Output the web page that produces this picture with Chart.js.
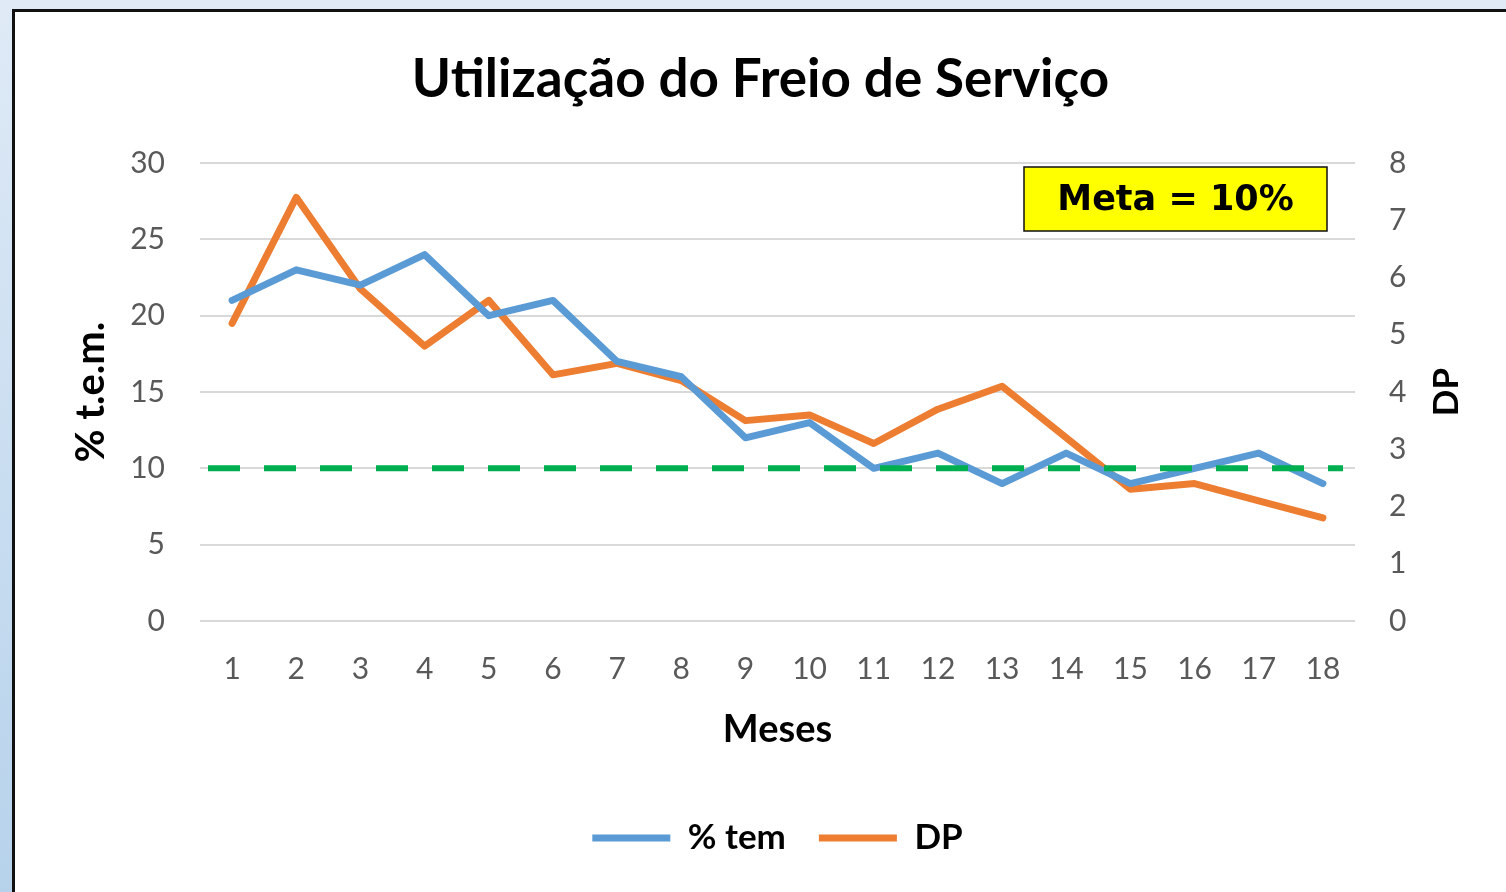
<!DOCTYPE html>
<html>
<head>
<meta charset="utf-8">
<script src="https://cdn.jsdelivr.net/npm/chart.js@4.4.1/dist/chart.umd.min.js"></script>
<style>
    html, body {
        margin: 0;
        padding: 0;
        width: 1506px;
        height: 892px;
        overflow: hidden;
        background: linear-gradient(to bottom, #dfeaf6, #b6d2eb);
    }
    .frame {
        position: absolute;
        left: 12px;
        top: 9px;
        width: 1520px;
        height: 900px;
        background: #fff;
        border-left: 3px solid #111;
        border-top: 3px solid #111;
    }
    .frame canvas {
        position: absolute;
        left: 0;
        top: 0;
    }
</style>
</head>
<body>
<div class="frame">
    <canvas id="chart" width="1491" height="880"></canvas>
</div>
<script>
// Data
const meses = ['1', '2', '3', '4', '5', '6', '7', '8', '9', '10', '11', '12', '13', '14', '15', '16', '17', '18'];
const pctTem = [21, 23, 22, 24, 20, 21, 17, 16, 12, 13, 10, 11, 9, 11, 9, 10, 11, 9];
const dp = [5.2, 7.4, 5.8, 4.8, 5.6, 4.3, 4.5, 4.2, 3.5, 3.6, 3.1, 3.7, 4.1, 3.2, 2.3, 2.4, 2.1, 1.8];
const meta = 10;
const metaLabel = 'Meta = 10%';

const blue = '#5b9bd5';
const orange = '#ed7d31';
const green = '#00b050';
const tickColor = '#595959';

// Dashed target line + yellow label box
const metaPlugin = {
    id: 'metaPlugin',
    afterDatasetsDraw(chart) {
        const ctx = chart.ctx;
        const area = chart.chartArea;
        const y = chart.scales.y.getPixelForValue(meta);
        ctx.save();
        ctx.strokeStyle = green;
        ctx.lineWidth = 6;
        ctx.setLineDash([32, 24]);
        ctx.beginPath();
        ctx.moveTo(area.left + 8, y);
        ctx.lineTo(area.right - 12, y);
        ctx.stroke();
        ctx.restore();

        // box
        const bx = area.right - 331, by = area.top + 4, bw = 303, bh = 64;
        ctx.save();
        ctx.fillStyle = '#ffff00';
        ctx.fillRect(bx, by, bw, bh);
        ctx.strokeStyle = '#111';
        ctx.lineWidth = 1.5;
        ctx.strokeRect(bx, by, bw, bh);
        ctx.fillStyle = '#000';
        ctx.font = 'bold 35px "DejaVu Sans"';
        ctx.textAlign = 'center';
        ctx.textBaseline = 'middle';
        ctx.fillText(metaLabel, bx + bw / 2, by + bh / 2 + 2);
        ctx.restore();
    }
};

// Right axis title reads bottom to top, like the left one
const dpTitlePlugin = {
    id: 'dpTitle',
    afterDraw(chart) {
        const ctx = chart.ctx;
        const area = chart.chartArea;
        ctx.save();
        ctx.translate(area.right + 92, (area.top + area.bottom) / 2);
        ctx.rotate(-Math.PI / 2);
        ctx.font = 'bold 35px Lato';
        ctx.fillStyle = '#000';
        ctx.textAlign = 'center';
        ctx.textBaseline = 'middle';
        ctx.fillText('DP', 0, 0);
        ctx.restore();
    }
};

function renderChart() {
    const ctx = document.getElementById('chart').getContext('2d');

    new Chart(ctx, {
        type: 'line',
        data: {
            labels: meses,
            datasets: [{
                label: '% tem',
                data: pctTem,
                borderColor: blue,
                backgroundColor: blue,
                borderWidth: 7,
                pointRadius: 0,
                borderJoinStyle: 'round',
                borderCapStyle: 'round',
                yAxisID: 'y'
            }, {
                label: 'DP',
                data: dp,
                borderColor: orange,
                backgroundColor: orange,
                borderWidth: 7,
                pointRadius: 0,
                borderJoinStyle: 'round',
                borderCapStyle: 'round',
                yAxisID: 'y1'
            }]
        },
        options: {
            responsive: false,
            animation: false,
            layout: {
                padding: { left: 0, right: 0, top: 0, bottom: 26.5 }
            },
            plugins: {
                title: {
                    display: true,
                    text: 'Utilização do Freio de Serviço',
                    color: '#000',
                    font: { family: 'Lato', size: 53, weight: 'bold' },
                    padding: { top: 36.2, bottom: 51.2 }
                },
                legend: {
                    position: 'bottom',
                    fullSize: false,
                    labels: {
                        color: '#000',
                        font: { family: 'Lato', size: 35, weight: 'bold' },
                        boxWidth: 78,
                        boxHeight: 7,
                        padding: 33,
                        useBorderRadius: true,
                        borderRadius: 3.5,
                        generateLabels: chart => chart.data.datasets.map((ds, i) => ({
                            text: ds.label,
                            fillStyle: ds.borderColor,
                            strokeStyle: ds.borderColor,
                            lineWidth: 0,
                            fontColor: '#000',
                            datasetIndex: i
                        }))
                    }
                },
                tooltip: { enabled: false }
            },
            scales: {
                x: {
                    offset: true,
                    grid: { display: false },
                    border: { display: false },
                    ticks: {
                        color: tickColor,
                        font: { family: 'Lato', size: 30 },
                        padding: 22,
                        maxRotation: 0
                    },
                    title: {
                        display: true,
                        text: 'Meses',
                        color: '#000',
                        font: { family: 'Lato', size: 38, weight: 'bold' },
                        padding: { top: 0, bottom: 34.7 }
                    },
                    afterFit: scale => { scale.height = 166.5; }
                },
                y: {
                    position: 'left',
                    min: 0,
                    max: 30,
                    ticks: {
                        stepSize: 5,
                        color: tickColor,
                        font: { family: 'Lato', size: 30 },
                        padding: 35
                    },
                    grid: { color: '#d9d9d9', lineWidth: 2, drawTicks: false },
                    border: { display: false },
                    title: {
                        display: true,
                        text: '% t.e.m.',
                        color: '#000',
                        font: { family: 'Lato', size: 40, weight: 'bold' },
                        padding: { top: 52, bottom: 0 }
                    },
                    afterFit: scale => { scale.width = 185; }
                },
                y1: {
                    position: 'right',
                    min: 0,
                    max: 8,
                    ticks: {
                        stepSize: 1,
                        color: tickColor,
                        font: { family: 'Lato', size: 30 },
                        padding: 34
                    },
                    grid: { drawOnChartArea: false, drawTicks: false },
                    border: { display: false },
                    afterFit: scale => { scale.width = 151; }
                }
            }
        },
        plugins: [metaPlugin, dpTitlePlugin]
    });
}

document.addEventListener('DOMContentLoaded', renderChart);
</script>
</body>
</html>
